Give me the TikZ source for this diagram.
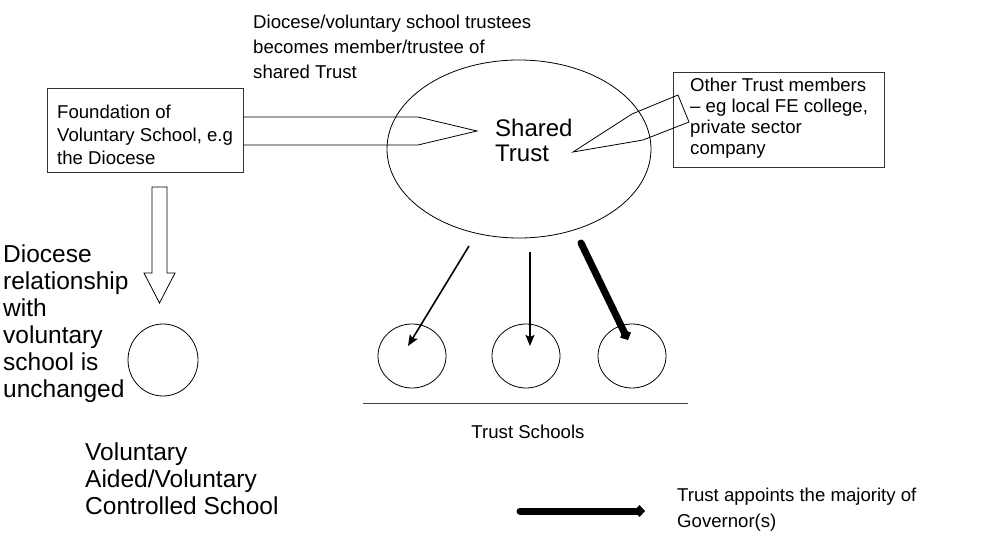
\documentclass[tikz,border=0pt]{standalone}
\usepackage{fontspec}
\setmainfont{Liberation Sans}
\usetikzlibrary{arrows.meta,shapes.geometric}
\begin{document}
\begin{tikzpicture}[x=1pt,y=-1pt,
  txt/.style={inner sep=0pt, anchor=north west, align=left},
  sz/.style 2 args={font=\fontsize{#1}{#2}\selectfont},
  frame/.style={draw=black!80, line width=0.9pt},
  outline/.style={draw, line width=0.8pt},
  school/.style={draw, ellipse, line width=0.8pt, inner sep=0pt,
                 minimum width=68pt, minimum height=64pt},
  link/.style={line width=1.6pt, -{Stealth[length=11pt,width=9pt,inset=2pt]}},
  strong/.style={line width=7pt, line cap=round, -{Diamond[length=11pt,width=12pt]}}
]
\useasboundingbox (0,0) rectangle (991,537);

% shared trust
\node[outline, ellipse, inner sep=0pt, minimum width=264pt, minimum height=178pt] (trust) at (519,149) {};
\node[txt, sz={24}{25}] (sharedlbl) at (495,119) {Shared\\Trust};

% caption above
\node[txt, sz={18.6}{25}] (toplbl) at (253,15)
  {Diocese/voluntary school trustees\\becomes member/trustee of\\shared Trust};

% foundation box and its arrow into the trust
\node[frame, minimum width=196pt, minimum height=84pt, inner sep=0pt] (found) at (145,130) {};
\node[txt, sz={18.6}{23}] (foundlbl) at (57,105)
  {Foundation of\\Voluntary School, e.g\\the Diocese};
\coordinate (fa1) at (found.east |- 0,117);
\coordinate (fa2) at (found.east |- 0,145);
\draw[line width=0.8pt] (fa1) -- (418,117) -- (477,131) -- (418,145) -- (fa2);

% other members box and its arrow into the trust
\node[frame, minimum width=211pt, minimum height=95pt, inner sep=0pt] (other) at (778.5,119.5) {};
\node[txt, sz={18.6}{21}] (otherlbl) at (690,78)
  {Other Trust members\\– eg local FE college,\\private sector\\company};
\draw[line width=0.8pt] (678,95) -- (632,114) -- (573,152) -- (643,140) -- (689,122) -- cycle;

% diocese to voluntary school (unchanged)
\draw[line width=0.8pt] (152,187) -- (167,187) -- (167,273) -- (175,273) -- (159.5,303)
  -- (144,273) -- (152,273) -- cycle;
\node[school, minimum width=70pt, minimum height=72pt] (vschool) at (163,360) {};
\node[txt, sz={24.5}{27}] (dioclbl) at (3,245)
  {Diocese\\relationship\\with\\voluntary\\school is\\unchanged};
\node[txt, sz={24.5}{27}] (vollbl) at (85,443)
  {Voluntary\\Aided/Voluntary\\Controlled School};

% trust schools
\node[school] (s1) at (412,356) {};
\node[school] (s2) at (526,356) {};
\node[school] (s3) at (632,356) {};
\coordinate (base1) at (363,403);
\coordinate (base2) at (688,403);
\draw[line width=0.8pt, draw=black!75] (base1) -- (base2);
\node[inner sep=0pt, sz={18.6}{23}] (tslbl) at (528,432) {Trust Schools};

\coordinate (a1) at (469,246);
\coordinate (a2) at (530,252);
\coordinate (a3) at (581,243);
\coordinate (b1) at (408,346);
\coordinate (b2) at (530,346);
\coordinate (b3) at (628,340);
\draw[link] (a1) -- (b1);
\draw[link] (a2) -- (b2);
\draw[strong] (a3) -- (b3);

% key
\coordinate (k1) at (520,511);
\coordinate (k2) at (645,511);
\draw[strong] (k1) -- (k2);
\node[txt, sz={18.6}{26}] (keylbl) at (677,488)
  {Trust appoints the majority of\\Governor(s)};
\end{tikzpicture}
\end{document}
